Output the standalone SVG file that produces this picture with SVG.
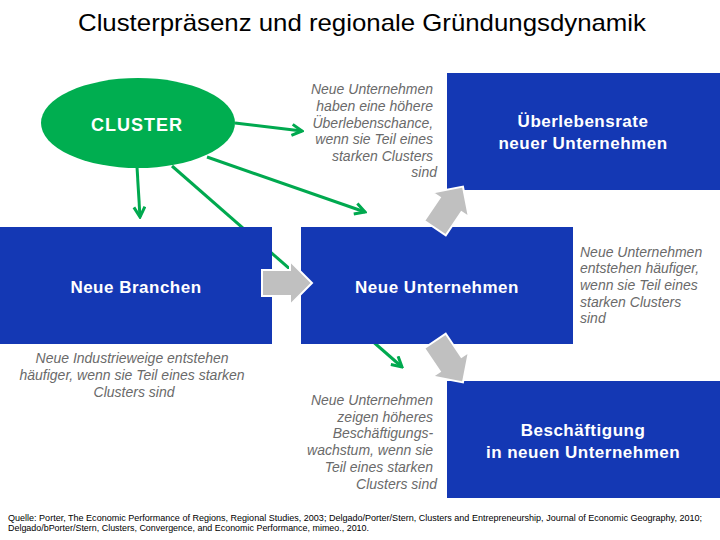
<svg xmlns="http://www.w3.org/2000/svg" width="720" height="540" viewBox="0 0 720 540">
<defs>
<style>
.title{font-family:"Liberation Sans",Arial,sans-serif;font-size:24px;fill:#000}
.box{fill:#1438B4}
.btxt{font-family:"Liberation Sans",Arial,sans-serif;font-size:17px;font-weight:bold;fill:#fff;text-anchor:middle;letter-spacing:0.5px}
.note{font-family:"Liberation Sans",Arial,sans-serif;font-size:14px;font-style:italic;fill:#6a6a6a}
.src{font-family:"Liberation Sans",Arial,sans-serif;font-size:9px;fill:#000}
.gline{stroke:#00A94F;stroke-width:3;fill:none}
.garrow{fill:#C0C0C0;stroke:#fff;stroke-width:2;stroke-linejoin:miter}
</style>
<marker id="ah" markerUnits="userSpaceOnUse" viewBox="0 0 14 14" refX="12" refY="7" markerWidth="14" markerHeight="14" orient="auto">
<path d="M2,1.5 L12,7 L2,12.5" fill="none" stroke="#00A94F" stroke-width="3"/>
</marker>
<polygon id="blk" points="0,-13 28,-13 28,-22 50,0 28,22 28,13 0,13"/>
</defs>
<rect width="720" height="540" fill="#fff"/>
<text class="title" x="78" y="31" textLength="568" lengthAdjust="spacingAndGlyphs">Clusterpräsenz und regionale Gründungsdynamik</text>

<g id="connectors">
<line class="gline" x1="235" y1="123" x2="302" y2="131" marker-end="url(#ah)"/>
<line class="gline" x1="207" y1="157" x2="365" y2="212" marker-end="url(#ah)"/>
<line class="gline" x1="172" y1="166" x2="402" y2="367" marker-end="url(#ah)"/>
<line class="gline" x1="137" y1="167" x2="140" y2="217" marker-end="url(#ah)"/>
</g>

<g id="cluster">
<ellipse cx="138" cy="123" rx="97" ry="45" fill="#00AE50"/>
<text class="btxt" x="137" y="131" style="font-size:18px;letter-spacing:1px">CLUSTER</text>
</g>

<g id="neue-branchen">
<rect class="box" x="0" y="227" width="272" height="117"/>
<text class="btxt" x="136" y="293">Neue Branchen</text>
</g>

<g id="neue-unternehmen">
<rect class="box" x="301" y="227" width="272" height="117"/>
<text class="btxt" x="437" y="293">Neue Unternehmen</text>
</g>

<g id="ueberlebensrate">
<rect class="box" x="447" y="73" width="273" height="117"/>
<text class="btxt" x="583" y="127">Überlebensrate</text>
<text class="btxt" x="583" y="149">neuer Unternehmen</text>
</g>

<g id="beschaeftigung">
<rect class="box" x="447" y="381" width="273" height="117"/>
<text class="btxt" x="583" y="436">Beschäftigung</text>
<text class="btxt" x="583" y="458">in neuen Unternehmen</text>
</g>

<g id="flow-arrows">
<use href="#blk" class="garrow" transform="translate(262,283)"/>
<use href="#blk" class="garrow" transform="translate(435,228) rotate(-56)"/>
<use href="#blk" class="garrow" transform="translate(435,341) rotate(56)"/>
</g>

<g id="notes">
<text class="note" text-anchor="end">
<tspan x="437" y="94">Neue Unternehmen</tspan>
<tspan x="437" y="111">haben eine höhere</tspan>
<tspan x="437" y="128">Überlebenschance,</tspan>
<tspan x="437" y="144">wenn sie Teil eines</tspan>
<tspan x="437" y="161">starken Clusters</tspan>
<tspan x="437" y="177">sind</tspan>
</text>
<text class="note">
<tspan x="580" y="257">Neue Unternehmen</tspan>
<tspan x="580" y="273">entstehen häufiger,</tspan>
<tspan x="580" y="290">wenn sie Teil eines</tspan>
<tspan x="580" y="307">starken Clusters</tspan>
<tspan x="580" y="323">sind</tspan>
</text>
<text class="note" text-anchor="end">
<tspan x="437" y="405">Neue Unternehmen</tspan>
<tspan x="437" y="422">zeigen höheres</tspan>
<tspan x="437" y="438">Beschäftigungs-</tspan>
<tspan x="437" y="455">wachstum, wenn sie</tspan>
<tspan x="437" y="472">Teil eines starken</tspan>
<tspan x="437" y="489">Clusters sind</tspan>
</text>
<text class="note" text-anchor="middle">
<tspan x="134" y="363">Neue Industrieweige entstehen</tspan>
<tspan x="134" y="380">häufiger, wenn sie Teil eines starken</tspan>
<tspan x="134" y="397">Clusters sind</tspan>
</text>
</g>

<g id="source">
<text class="src" x="8" y="521" textLength="694" lengthAdjust="spacingAndGlyphs">Quelle: Porter, The Economic Performance of Regions, Regional Studies, 2003; Delgado/Porter/Stern, Clusters and Entrepreneurship, Journal of Economic Geography, 2010;</text>
<text class="src" x="8" y="531" textLength="361" lengthAdjust="spacingAndGlyphs">Delgado/bPorter/Stern, Clusters, Convergence, and Economic Performance, mimeo., 2010.</text>
</g>
</svg>
